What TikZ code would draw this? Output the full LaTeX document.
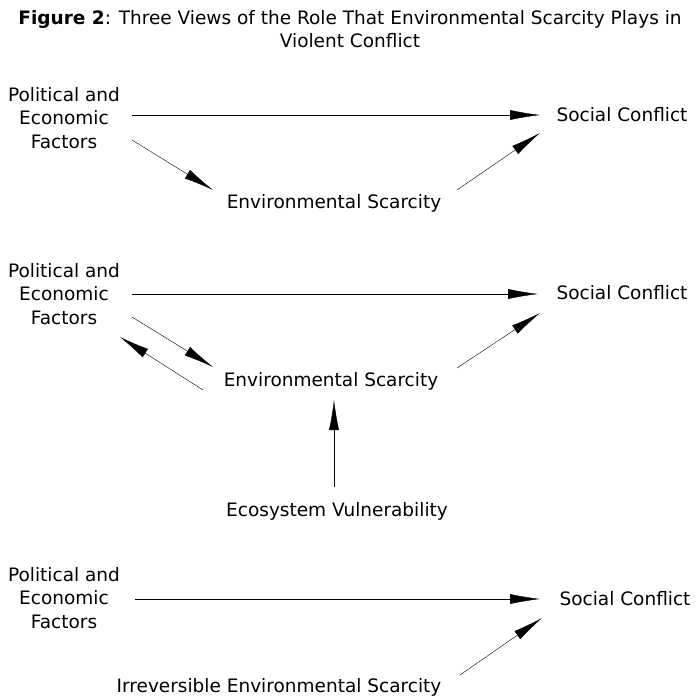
\documentclass[tikz,border=0pt]{standalone}
\usepackage{fontspec}
\setmainfont{DejaVu Sans}
\usetikzlibrary{arrows.meta}
\begin{document}
\begin{tikzpicture}[x=1pt, y=-1pt, every node/.style={font=\fontsize{18.5}{23.5}\selectfont}]
    \tikzstyle{label} = [inner sep=0pt, align=center]
    \tikzstyle{arrow} = [thin,-{Latex[length=30pt,width=10pt]}]
    \useasboundingbox (0,0) rectangle (700,700);

    \node [label] (title) at (350,29) {\textbf{Figure 2}: Three Views of the Role That Environmental Scarcity Plays in\\Violent Conflict};

    % first view
    \node [label] (pola) at (64,118) {Political and\\Economic\\Factors};
    \node [label] (soca) at (622,115) {Social Conflict};
    \node [label] (enva) at (334,203) {Environmental Scarcity};
    \draw [arrow] (132,115) -- (540,115);
    \draw [arrow] (132,140) -- (213,190);
    \draw [arrow] (457,190) -- (540,133);

    % second view
    \node [label] (polb) at (64,294) {Political and\\Economic\\Factors};
    \node [label] (socb) at (622,293) {Social Conflict};
    \node [label] (envb) at (331,381) {Environmental Scarcity};
    \node [label] (eco) at (337,511) {Ecosystem Vulnerability};
    \draw [arrow] (132,294) -- (538,294);
    \draw [arrow] (132,317) -- (213,367);
    \draw [arrow] (203,390) -- (120,337);
    \draw [arrow] (457,368) -- (540,313);
    \draw [arrow] (334,487) -- (334,400);

    % third view
    \node [label] (polc) at (64,598) {Political and\\Economic\\Factors};
    \node [label] (socc) at (625,599) {Social Conflict};
    \node [label] (irr) at (279,687) {Irreversible Environmental Scarcity};
    \draw [arrow] (135,599) -- (540,599);
    \draw [arrow] (460,675) -- (542,618);
\end{tikzpicture}
\end{document}
